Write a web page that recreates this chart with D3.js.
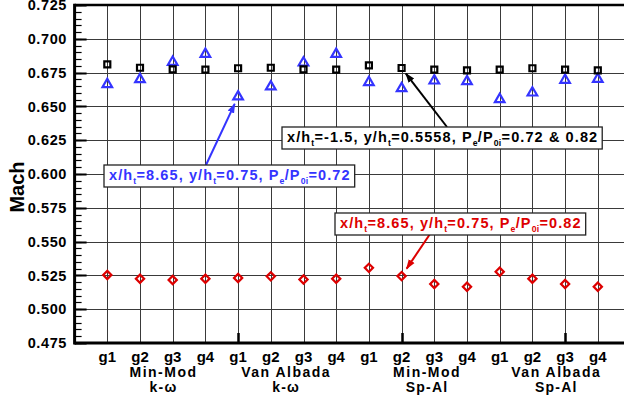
<!DOCTYPE html>
<html>
<head>
<meta charset="utf-8">
<script src="https://cdn.jsdelivr.net/npm/d3@7"></script>
<style>
  html, body { margin: 0; padding: 0; background: #fff; }
  svg { display: block; font-family: "Liberation Sans", Arial, Helvetica, sans-serif; font-weight: bold; }
</style>
</head>
<body>
<svg id="chart" width="624" height="398"></svg>
<script>
// Grid labels along the x axis (four groups of four grids)
const gridLabels = ["g1","g2","g3","g4","g1","g2","g3","g4","g1","g2","g3","g4","g1","g2","g3","g4"];
const limiterLabels = ["Min-Mod", "Van Albada", "Min-Mod", "Van Albada"];
const modelLabels = ["k-\u03c9", "k-\u03c9", "Sp-Al", "Sp-Al"];

// Mach number at x/ht=-1.5, y/ht=0.5558 (both back pressures)
const machUpstream = [0.6811, 0.6786, 0.6774, 0.6772, 0.6782, 0.6786, 0.6774, 0.6772,
                      0.6804, 0.6784, 0.6772, 0.6767, 0.6772, 0.6782, 0.6772, 0.6767];
// Mach number at x/ht=8.65, y/ht=0.75, Pe/P0i=0.72
const machDown072 = [0.6663, 0.6700, 0.6828, 0.6887, 0.6572, 0.6646, 0.6823, 0.6887,
                     0.6678, 0.6633, 0.6690, 0.6685, 0.6552, 0.6601, 0.6695, 0.6702];
// Mach number at x/ht=8.65, y/ht=0.75, Pe/P0i=0.82
const machDown082 = [0.5253, 0.5225, 0.5216, 0.5225, 0.5231, 0.5243, 0.5220, 0.5225,
                     0.5306, 0.5245, 0.5186, 0.5166, 0.5277, 0.5225, 0.5186, 0.5166];

const yTicks = [0.475, 0.500, 0.525, 0.550, 0.575, 0.600, 0.625, 0.650, 0.675, 0.700, 0.725];

const BLUE = "#3434ff", RED = "#dd0000", BLACK = "#000";

const svg = d3.select("#chart");
const plotLeft = 74.6, plotTop = 5, plotBottom = 343, step = 32.7;
const x = d3.scaleLinear().domain([0, 17]).range([plotLeft, plotLeft + 17 * step]);
const y = d3.scaleLinear().domain([0.475, 0.725]).range([plotBottom, plotTop]);
const px = v => Math.round(v) + 0.5;

// Grid lines
const grid = svg.append("g").attr("stroke", "#3a3a3a").attr("stroke-width", 1);
grid.selectAll("line.h").data(yTicks.slice(1, -1)).join("line")
  .attr("x1", plotLeft).attr("x2", 624)
  .attr("y1", d => px(y(d))).attr("y2", d => px(y(d)));
grid.selectAll("line.v").data(d3.range(1, 17)).join("line")
  .attr("y1", plotTop).attr("y2", plotBottom)
  .attr("x1", d => px(x(d))).attr("x2", d => px(x(d)));

// Left axis with inward major and minor ticks
const axisG = svg.append("g").attr("stroke", BLACK);
const minor = d3.range(0, 51).map(i => 0.475 + i * 0.005);
axisG.selectAll("line.minor").data(minor).join("line")
  .attr("x1", plotLeft).attr("x2", plotLeft + 7)
  .attr("y1", d => px(y(d))).attr("y2", d => px(y(d)))
  .attr("stroke-width", 1.2);
axisG.selectAll("line.major").data(yTicks).join("line")
  .attr("x1", plotLeft).attr("x2", plotLeft + 12)
  .attr("y1", d => px(y(d))).attr("y2", d => px(y(d)))
  .attr("stroke-width", 2);
// Bottom axis ticks
axisG.selectAll("line.xmaj").data([5, 10, 15]).join("line")
  .attr("x1", d => px(x(d))).attr("x2", d => px(x(d)))
  .attr("y1", plotBottom).attr("y2", plotBottom - 10).attr("stroke-width", 2.5);

// Frame
svg.append("line").attr("x1", plotLeft).attr("x2", 624).attr("y1", plotTop).attr("y2", plotTop)
  .attr("stroke", BLACK).attr("stroke-width", 2.5);
svg.append("line").attr("x1", plotLeft).attr("x2", 624).attr("y1", plotBottom).attr("y2", plotBottom)
  .attr("stroke", BLACK).attr("stroke-width", 3);
svg.append("line").attr("x1", plotLeft).attr("x2", plotLeft).attr("y1", plotTop - 1.2).attr("y2", plotBottom + 1.5)
  .attr("stroke", BLACK).attr("stroke-width", 3);

// Y tick labels
svg.append("g").selectAll("text").data(yTicks).join("text")
  .attr("x", 67).attr("y", d => y(d)).attr("dy", "0.36em")
  .attr("text-anchor", "end").attr("font-size", 14.5).attr("letter-spacing", 0.6)
  .attr("fill", BLACK)
  .text(d => d3.format(".3f")(d));

// Y axis title
svg.append("text").attr("transform", "translate(24,187) rotate(-90)")
  .attr("text-anchor", "middle").attr("font-size", 20).text("Mach");

// X tick labels
svg.append("g").selectAll("text").data(gridLabels).join("text")
  .attr("x", (d, i) => x(i + 1)).attr("y", 362)
  .attr("text-anchor", "middle").attr("font-size", 15).text(d => d);

// Group labels (limiter / turbulence model)
const groupCenters = [2.72, 6.47, 10.78, 14.73];
svg.append("g").selectAll("text").data(limiterLabels).join("text")
  .attr("x", (d, i) => x(groupCenters[i])).attr("y", 377)
  .attr("text-anchor", "middle").attr("font-size", 14).attr("letter-spacing", 1.5)
  .text(d => d);
svg.append("g").selectAll("text").data(modelLabels).join("text")
  .attr("x", (d, i) => x(groupCenters[i])).attr("y", 392)
  .attr("text-anchor", "middle").attr("font-size", 14).attr("letter-spacing", 1.2)
  .text(d => d);

// Markers
const sq = d3.symbol().type(d3.symbolSquare).size(36);
const tri = d3.symbol().type(d3.symbolTriangle).size(40);
const dia = d3.symbol().type(d3.symbolSquare).size(34);

function markers(data, sym, color, rot) {
  svg.append("g").selectAll("path").data(data).join("path")
    .attr("d", sym)
    .attr("transform", (d, i) => `translate(${x(i + 1)},${y(d)}) rotate(${rot})`)
    .attr("fill", "none").attr("stroke", color).attr("stroke-width", 2.2);
}
markers(machDown072, tri, BLUE, 0);
markers(machUpstream, sq, BLACK, 0);
markers(machDown082, dia, RED, 45);

// Annotation boxes with leader arrows
const defs = svg.append("defs");
[["hBlack", BLACK], ["hBlue", BLUE], ["hRed", RED]].forEach(([id, c]) => {
  defs.append("marker").attr("id", id).attr("viewBox", "0 0 10 10")
    .attr("refX", 9).attr("refY", 5).attr("markerWidth", 10).attr("markerHeight", 10)
    .attr("markerUnits", "userSpaceOnUse").attr("orient", "auto")
    .append("path").attr("d", "M0,1.5 L10,5 L0,8.5 Z").attr("fill", c);
});

function note(parts, color, tx, ty) {
  const fs = 14.5;
  const g = svg.append("g");
  const t = g.append("text").attr("x", tx).attr("y", ty).attr("font-size", fs)
    .attr("letter-spacing", 1.1).attr("fill", color);
  let shifted = false;
  parts.forEach(p => {
    if (p.sub) {
      t.append("tspan").attr("font-size", fs * 0.6).attr("letter-spacing", 0.3).attr("dy", 4).text(p.sub);
      shifted = true;
    } else {
      const s = t.append("tspan").text(p.t);
      if (shifted) { s.attr("dy", -4); shifted = false; }
    }
  });
  const b = t.node().getBBox();
  g.insert("rect", "text").attr("x", tx - 5).attr("y", b.y - 2)
    .attr("width", b.width + 9).attr("height", b.height + 3)
    .attr("fill", "#fff").attr("stroke", "#222").attr("stroke-width", 1.3);
  return g;
}

function arrow(x0, y0, idx, val, color, id, gap) {
  const x1 = x(idx + 1), y1 = y(val);
  const a = Math.atan2(y0 - y1, x0 - x1);
  svg.append("line").attr("x1", x0).attr("y1", y0)
    .attr("x2", x1 + gap * Math.cos(a)).attr("y2", y1 + gap * Math.sin(a))
    .attr("stroke", color).attr("stroke-width", 2).attr("marker-end", `url(#${id})`);
}

arrow(447, 127, 9, machUpstream[9], BLACK, "hBlack", 7);
arrow(206, 165, 4, machDown072[4], BLUE, "hBlue", 8);
arrow(430, 234, 9, machDown082[9], RED, "hRed", 9);

note([{t: "x/h"}, {sub: "t"}, {t: "=-1.5, y/h"}, {sub: "t"}, {t: "=0.5558,  P"}, {sub: "e"},
      {t: "/P"}, {sub: "0i"}, {t: "=0.72 & 0.82"}], BLACK, 287, 142);
note([{t: "x/h"}, {sub: "t"}, {t: "=8.65, y/h"}, {sub: "t"}, {t: "=0.75, P"}, {sub: "e"},
      {t: "/P"}, {sub: "0i"}, {t: "=0.72"}], BLUE, 109, 180);
note([{t: "x/h"}, {sub: "t"}, {t: "=8.65, y/h"}, {sub: "t"}, {t: "=0.75, P"}, {sub: "e"},
      {t: "/P"}, {sub: "0i"}, {t: "=0.82"}], RED, 340, 228);
</script>
</body>
</html>
